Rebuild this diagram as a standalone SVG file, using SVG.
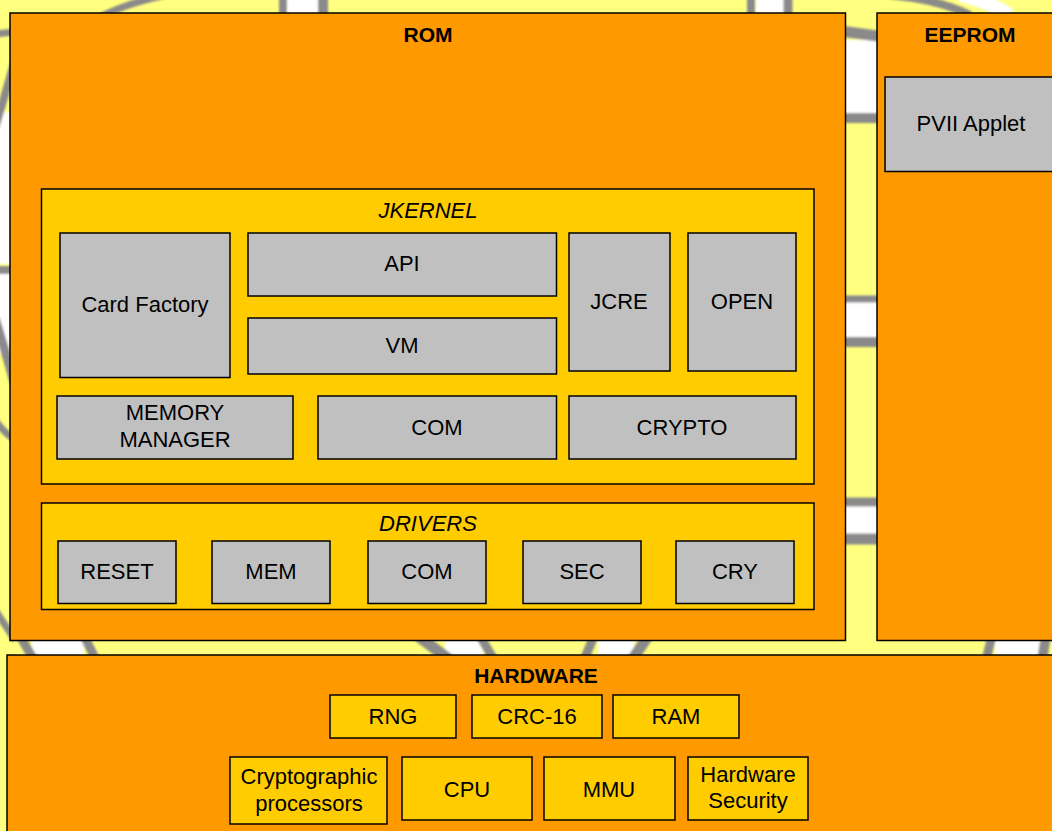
<svg xmlns="http://www.w3.org/2000/svg" width="1052" height="831" viewBox="0 0 1052 831">
<defs>
<style>
.outer{fill:#FF9900;stroke:#000;stroke-width:1.5}
.inner{fill:#FFCC00;stroke:#000;stroke-width:1.5}
.mod{fill:#C0C0C0;stroke:#000;stroke-width:1.5}
.hw{fill:#FFCC00;stroke:#000;stroke-width:1.5}
text{font-family:"Liberation Sans",Arial,sans-serif;font-size:22px;fill:#000;text-anchor:middle}
.b{font-weight:bold;font-size:21px}
.i{font-style:italic}
.g{fill:none;stroke:#8a8a8a}
.w{fill:#fff}
</style>
<filter id="soft" x="-5%" y="-5%" width="110%" height="110%"><feGaussianBlur stdDeviation="1"/></filter>
</defs>
<g id="background">
<rect x="0" y="0" width="1052" height="831" fill="#FFFF80"/>
<g filter="url(#soft)">
<!-- top strip -->
<path d="M95,20 Q120,5 165,-5" class="g" stroke-width="7"/>
<rect x="287" y="-5" width="32" height="20" class="w"/>
<line x1="283" y1="-5" x2="283" y2="15" class="g" stroke-width="8"/>
<line x1="323" y1="-5" x2="323" y2="15" class="g" stroke-width="10"/>
<rect x="756" y="-5" width="28" height="20" class="w"/>
<line x1="751" y1="-5" x2="751" y2="15" class="g" stroke-width="8"/>
<line x1="788" y1="-5" x2="788" y2="15" class="g" stroke-width="9"/>
<path d="M890,-5 Q940,0 970,15" class="g" stroke-width="8"/>
<path d="M960,-5 Q990,2 1010,15" class="w" fill="none" stroke="#fff" stroke-width="14"/>
<!-- gap between ROM and EEPROM -->
<rect x="840" y="40" width="45" height="76" class="w"/>
<path d="M840,31 L885,37" class="g" stroke-width="11"/>
<line x1="840" y1="118" x2="885" y2="118" class="g" stroke-width="10"/>
<rect x="840" y="302" width="45" height="37" class="w"/>
<line x1="840" y1="299" x2="885" y2="299" class="g" stroke-width="7"/>
<line x1="840" y1="342" x2="885" y2="342" class="g" stroke-width="10"/>
<rect x="840" y="505" width="45" height="30" class="w"/>
<line x1="840" y1="502" x2="885" y2="502" class="g" stroke-width="9"/>
<line x1="840" y1="539" x2="885" y2="539" class="g" stroke-width="11"/>
<!-- gap between ROM and HARDWARE -->
<rect x="32" y="636" width="52" height="24" class="w"/>
<path d="M20,636 L34,660" class="g" stroke-width="9"/>
<path d="M84,636 L96,660" class="g" stroke-width="9"/>
<rect x="445" y="636" width="38" height="24" class="w"/>
<path d="M418,636 L450,660" class="g" stroke-width="11"/>
<path d="M480,636 L494,660" class="g" stroke-width="9"/>
<rect x="598" y="636" width="36" height="24" class="w"/>
<path d="M594,636 L584,660" class="g" stroke-width="9"/>
<path d="M648,636 L632,660" class="g" stroke-width="11"/>
<rect x="995" y="636" width="48" height="24" class="w"/>
<path d="M992,636 L986,660" class="g" stroke-width="9"/>
<path d="M1046,636 L1042,660" class="g" stroke-width="10"/>
<!-- left strip -->
<line x1="-5" y1="34" x2="15" y2="32" class="g" stroke-width="7"/>
<rect x="-5" y="112" width="20" height="152" class="w"/>
<path d="M15,60 Q5,95 -5,128" class="g" stroke-width="8"/>
<line x1="-5" y1="270" x2="15" y2="270" class="g" stroke-width="8"/>
<rect x="-5" y="274" width="20" height="80" class="w"/>
<path d="M-5,318 Q5,350 15,385" class="g" stroke-width="9"/>
<path d="M-5,420 Q3,432 15,440" class="g" stroke-width="7"/>
<path d="M-5,610 Q5,625 15,640" class="g" stroke-width="7"/>
</g>
</g>
<g id="connectors"></g>
<g id="rom">
<rect x="10" y="13" width="835.5" height="627.5" class="outer"/>
<text x="428" y="42" class="b">ROM</text>
</g>
<g id="eeprom">
<rect x="877" y="13" width="185" height="627.5" class="outer"/>
<text x="970" y="42" class="b">EEPROM</text>
</g>
<g id="pvii-applet">
<rect x="885" y="77" width="177" height="94.5" class="mod"/>
<text x="971" y="131">PVII Applet</text>
</g>
<g id="jkernel">
<rect x="41.5" y="189" width="772.5" height="295" class="inner"/>
<text x="428" y="218" class="i">JKERNEL</text>
</g>
<g id="card-factory">
<rect x="60" y="233" width="170" height="144.5" class="mod"/>
<text x="145" y="312">Card Factory</text>
</g>
<g id="api">
<rect x="248" y="233" width="308.5" height="63" class="mod"/>
<text x="402" y="271">API</text>
</g>
<g id="vm">
<rect x="248" y="318" width="308.5" height="56" class="mod"/>
<text x="402" y="353">VM</text>
</g>
<g id="jcre">
<rect x="569" y="233" width="101" height="138" class="mod"/>
<text x="619" y="309">JCRE</text>
</g>
<g id="open">
<rect x="688" y="233" width="108" height="138" class="mod"/>
<text x="742" y="309">OPEN</text>
</g>
<g id="memory-manager">
<rect x="57" y="396" width="236" height="63" class="mod"/>
<text x="175" y="420">MEMORY</text>
<text x="175" y="447">MANAGER</text>
</g>
<g id="com-kernel">
<rect x="318" y="396" width="238.5" height="63" class="mod"/>
<text x="437" y="435">COM</text>
</g>
<g id="crypto">
<rect x="569" y="396" width="227" height="63" class="mod"/>
<text x="682" y="435">CRYPTO</text>
</g>
<g id="drivers">
<rect x="41.5" y="503" width="772.5" height="106.5" class="inner"/>
<text x="428" y="531" class="i">DRIVERS</text>
</g>
<g id="reset">
<rect x="58" y="541" width="118" height="62.5" class="mod"/>
<text x="117" y="579">RESET</text>
</g>
<g id="mem">
<rect x="212" y="541" width="118" height="62.5" class="mod"/>
<text x="271" y="579">MEM</text>
</g>
<g id="com-driver">
<rect x="368" y="541" width="118" height="62.5" class="mod"/>
<text x="427" y="579">COM</text>
</g>
<g id="sec">
<rect x="523" y="541" width="118" height="62.5" class="mod"/>
<text x="582" y="579">SEC</text>
</g>
<g id="cry">
<rect x="676" y="541" width="118" height="62.5" class="mod"/>
<text x="735" y="579">CRY</text>
</g>
<g id="hardware">
<rect x="7" y="655" width="1055" height="190" class="outer"/>
<text x="536" y="683" class="b">HARDWARE</text>
</g>
<g id="rng">
<rect x="330" y="695" width="126" height="43" class="hw"/>
<text x="393" y="724">RNG</text>
</g>
<g id="crc16">
<rect x="472" y="695" width="130" height="43" class="hw"/>
<text x="537" y="724">CRC-16</text>
</g>
<g id="ram">
<rect x="613" y="695" width="126" height="43" class="hw"/>
<text x="676" y="724">RAM</text>
</g>
<g id="crypto-processors">
<rect x="230" y="757" width="157" height="67" class="hw"/>
<text x="309" y="784">Cryptographic</text>
<text x="309" y="811">processors</text>
</g>
<g id="cpu">
<rect x="402" y="757" width="130" height="63" class="hw"/>
<text x="467" y="797">CPU</text>
</g>
<g id="mmu">
<rect x="544" y="757" width="131" height="63" class="hw"/>
<text x="609" y="797">MMU</text>
</g>
<g id="hardware-security">
<rect x="688" y="757" width="120" height="63" class="hw"/>
<text x="748" y="782">Hardware</text>
<text x="748" y="808">Security</text>
</g>
</svg>
